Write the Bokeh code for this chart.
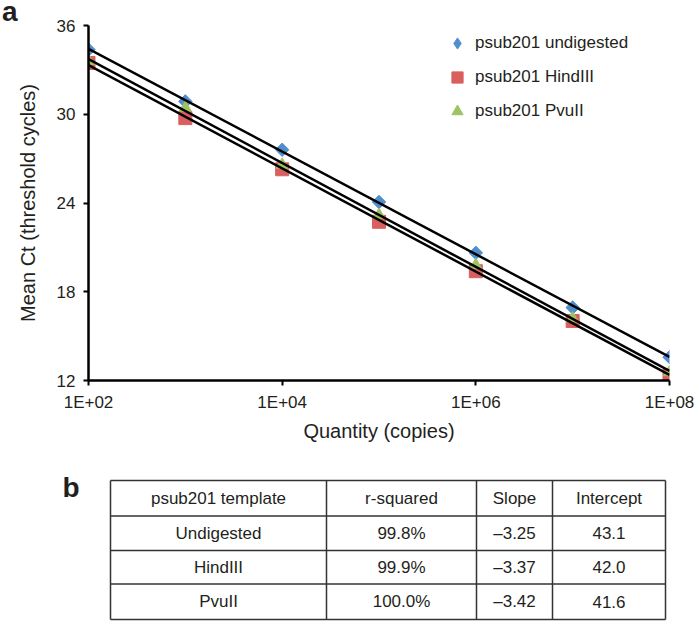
import numpy as np
from bokeh.plotting import figure
from bokeh.models import Range1d, FixedTicker, Legend, LegendItem, Label, Div
from bokeh.embed import file_html
from bokeh.resources import INLINE
from bokeh.core.properties import value

# ---------------- data ----------------
quantity = [1e2, 1e3, 1e4, 1e5, 1e6, 1e7, 1e8]
ct_undigested = [34.37, 30.87, 27.60, 24.07, 20.63, 16.93, 13.58]
ct_hindiii = [33.47, 29.74, 26.28, 22.73, 19.39, 16.02, 12.34]
ct_pvuii = [33.60, 30.44, 26.58, 23.19, 19.80, 16.20, 12.56]
series_names = ["psub201 undigested", "psub201 HindIII", "psub201 PvuII"]

x_ticks = [1e2, 1e4, 1e6, 1e8]
x_tick_labels = ["1E+02", "1E+04", "1E+06", "1E+08"]
y_ticks = [12, 18, 24, 30, 36]

table_header = ["psub201 template", "r-squared", "Slope", "Intercept"]
table_template = ["Undigested", "HindIII", "PvuII"]
table_r_squared = ["99.8%", "99.9%", "100.0%"]
table_slope = ["\u20133.25", "\u20133.37", "\u20133.42"]
table_intercept = ["43.1", "42.0", "41.6"]

# ---------------- style ----------------
FONT = "Liberation Sans"
TXT = "#231f20"
BLUE = "#4f8fcf"
RED = "#d95f5f"
GREEN = "#9fc262"

# ---------------- chart ----------------
p = figure(width=700, height=462, x_axis_type="log",
           x_range=Range1d(1e2, 1e8), y_range=Range1d(12, 36),
           output_backend="svg", toolbar_location=None, title=None,
           min_border_left=88, min_border_right=31,
           min_border_top=25, min_border_bottom=82)
p.outline_line_color = None
p.xgrid.visible = False
p.ygrid.visible = False
p.background_fill_color = "white"

p.xaxis.ticker = FixedTicker(ticks=x_ticks, minor_ticks=[])
p.xaxis.major_label_overrides = {t: l for t, l in zip(x_ticks, x_tick_labels)}
p.yaxis.ticker = FixedTicker(ticks=y_ticks, minor_ticks=[])
p.xaxis.axis_label = "Quantity (copies)"
p.yaxis.axis_label = "Mean Ct (threshold cycles)"

for ax in (p.xaxis[0], p.yaxis[0]):
    ax.axis_line_width = 2.5
    ax.axis_line_color = "black"
    ax.major_tick_line_width = 2
    ax.major_tick_line_color = "black"
    ax.major_tick_in = 0
    ax.major_tick_out = 5
    ax.minor_tick_line_color = None
    ax.major_label_text_font = FONT
    ax.major_label_text_font_size = "17px"
    ax.major_label_text_color = TXT
    ax.axis_label_text_font = FONT
    ax.axis_label_text_font_size = "20px"
    ax.axis_label_text_font_style = "normal"
    ax.axis_label_text_color = TXT
p.xaxis.major_label_standoff = 7
p.xaxis.axis_label_standoff = 5
p.yaxis.major_label_standoff = 8
p.yaxis.axis_label_standoff = 15

r_u = p.scatter(quantity, ct_undigested, marker="square", angle=np.pi / 4,
                size=9.5, fill_color=BLUE, line_color=BLUE)
r_h = p.scatter(quantity, ct_hindiii, marker="square", size=13,
                fill_color=RED, line_color=RED)
r_p = p.scatter(quantity, ct_pvuii, marker="triangle", size=12,
                fill_color=GREEN, line_color=GREEN)
# hidden twin of the undigested series, used only for its legend glyph
# (legend glyphs ignore marker angle, so the rotated square would show as a square)
r_u_leg = p.scatter(quantity, ct_undigested, marker="diamond", size=12,
                    fill_color=BLUE, line_color=BLUE, visible=False)

# least-squares trendlines (log10 quantity vs Ct)
lx = np.log10(quantity)
for ct in (ct_undigested, ct_hindiii, ct_pvuii):
    coef = np.polyfit(lx, ct, 1)
    xs = [quantity[0], quantity[-1]]
    ys = np.polyval(coef, np.log10(xs))
    p.line(xs, ys, line_color="black", line_width=2.5)

legend = Legend(
    items=[LegendItem(label=n, renderers=[r]) for n, r in zip(series_names, [r_u_leg, r_h, r_p])],
    location=(355, 255), glyph_width=28, glyph_height=28, label_height=28,
    spacing=6, label_standoff=4, padding=0, margin=0,
    border_line_color=None, background_fill_alpha=0,
    inactive_fill_alpha=0, inactive_fill_color=None,
    label_text_font=FONT, label_text_font_size="17px", label_text_color=TXT)
p.add_layout(legend)

# ---------------- table ----------------
t = figure(width=700, height=164, x_range=Range1d(0, 700), y_range=Range1d(626, 462),
           output_backend="svg", toolbar_location=None, title=None,
           x_axis_location=None, y_axis_location=None, min_border=0)
t.outline_line_color = None
t.grid.visible = False

col_edges = [110, 326, 476, 552, 665]
row_edges = [480, 515.5, 550, 583.5, 619]

t.segment(x0=[col_edges[0]] * len(row_edges), x1=[col_edges[-1]] * len(row_edges),
          y0=row_edges, y1=row_edges, line_color="#333333", line_width=1.5)
t.segment(x0=col_edges, x1=col_edges, y0=[row_edges[0]] * len(col_edges),
          y1=[row_edges[-1]] * len(col_edges), line_color="#333333", line_width=1.5)

rows = [table_header] + [list(r) for r in zip(table_template, table_r_squared, table_slope, table_intercept)]
tx, ty, tt = [], [], []
for i, row in enumerate(rows):
    for j, cell in enumerate(row):
        tx.append((col_edges[j] + col_edges[j + 1]) / 2)
        ty.append((row_edges[i] + row_edges[i + 1]) / 2)
        tt.append(cell)
t.text(x=tx, y=ty, text=tt, text_align="center", text_baseline="middle",
       text_font=value(FONT), text_font_size="17px", text_color=TXT)

t.add_layout(Label(x=62, y=487, text="b", text_font=FONT, text_font_size="28px",
                   text_font_style="bold", text_color=TXT, text_baseline="alphabetic"))

# panel letter "a" (outside the chart frame, so placed as an absolutely positioned div)
panel_a = Div(text="a", styles={
    "position": "absolute", "left": "2px", "top": "0px",
    "font-family": FONT, "font-size": "28px", "font-weight": "bold",
    "color": TXT, "line-height": "23px", "margin": "0", "padding": "0"})

open("out.html", "w").write(file_html([p, t, panel_a], INLINE))
